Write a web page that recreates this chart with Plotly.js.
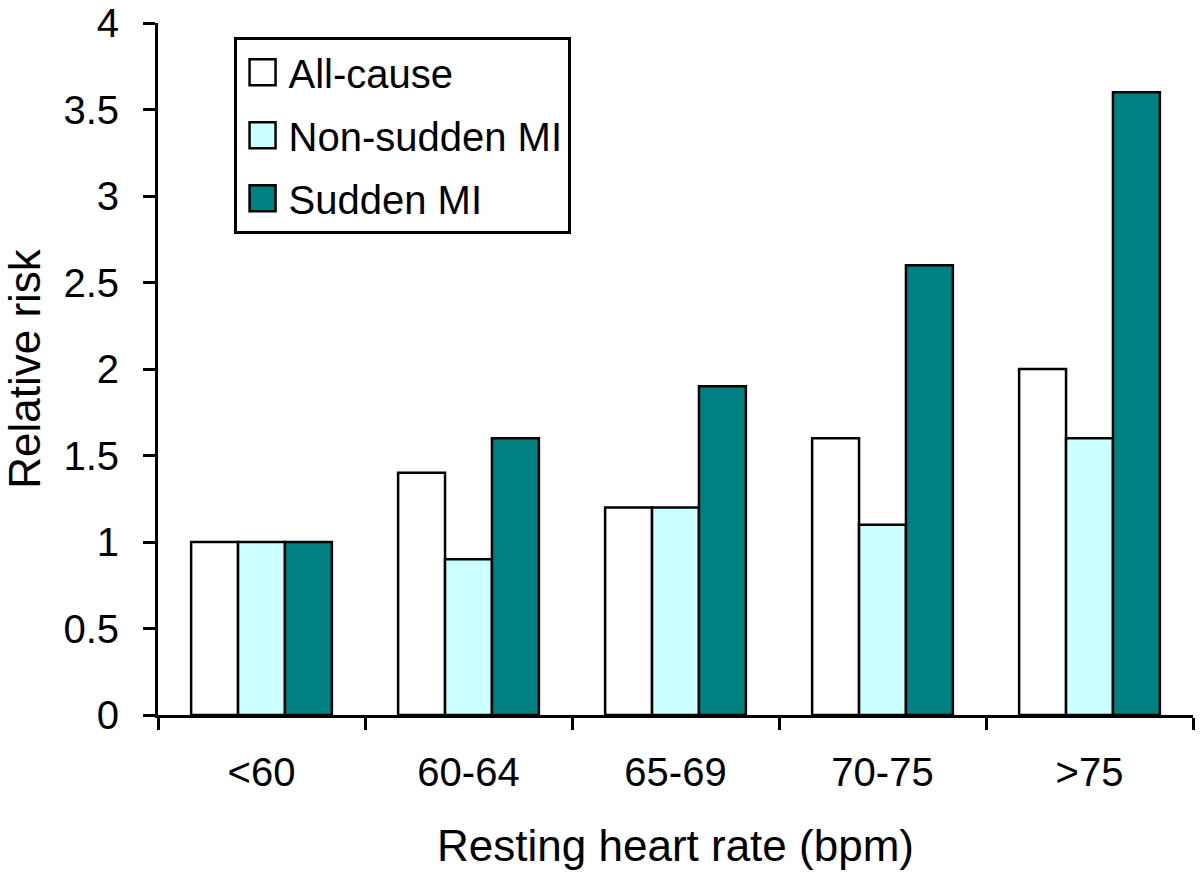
<!DOCTYPE html>
<html>
<head>
<meta charset="utf-8">
<script src="https://cdn.plot.ly/plotly-3.0.1.min.js"></script>
<style>html,body{margin:0;padding:0;background:#fff;}#chart{width:1200px;height:874px;}</style>
</head>
<body>
<div id="chart"></div>
<script>
const categories = ["<60", "60-64", "65-69", "70-75", ">75"];
const allCause = [1.0, 1.4, 1.2, 1.6, 2.0];
const nonSuddenMI = [1.0, 0.9, 1.2, 1.1, 1.6];
const suddenMI = [1.0, 1.6, 1.9, 2.6, 3.6];
const seriesNames = ["All-cause", "Non-sudden MI", "Sudden MI"];
const seriesColors = ["#FFFFFF", "#CCFFFF", "#008080"];
const seriesValues = [allCause, nonSuddenMI, suddenMI];

const font = "Liberation Sans, Arial, sans-serif";
const traces = seriesValues.map((vals, i) => ({
  type: "bar",
  name: seriesNames[i],
  x: categories,
  y: vals,
  legendgroup: "g" + i,
  marker: {color: seriesColors[i], line: {color: "#000", width: 2.5}},
  hoverinfo: "x+y+name"
}));

const layout = {
  width: 1200, height: 874,
  margin: {l: 158, r: 7, t: 23, b: 159},
  paper_bgcolor: "#fff", plot_bgcolor: "#fff",
  font: {family: font, size: 40, color: "#000"},
  barmode: "group",
  bargap: 0.32,
  bargroupgap: 0,
  showlegend: true,
  legend: {
    x: 0.073, y: 0.98, xanchor: "left", yanchor: "top",
    bordercolor: "#000", borderwidth: 3, bgcolor: "#fff",
    font: {family: font, size: 40, color: "#000"},
    tracegroupgap: 8, traceorder: "grouped",
    itemwidth: 42
  },
  xaxis: {
    type: "category",
    showline: true, linecolor: "#000", linewidth: 3,
    ticks: "outside", ticklen: 12, tickwidth: 3, tickcolor: "#000",
    tickson: "boundaries",
    ticklabelstandoff: 20,
    showgrid: false, zeroline: false,
    tickfont: {family: font, size: 40},
    title: {text: "Resting heart rate (bpm)", font: {family: font, size: 44}, standoff: 38}
  },
  yaxis: {
    range: [0, 4], dtick: 0.5, tick0: 0,
    showline: true, linecolor: "#000", linewidth: 3,
    ticks: "outside", ticklen: 12, tickwidth: 3, tickcolor: "#000",
    ticklabelstandoff: 16,
    showgrid: false, zeroline: false,
    tickfont: {family: font, size: 40},
    title: {text: "Relative risk", font: {family: font, size: 44}, standoff: 26}
  }
};

Plotly.newPlot("chart", traces, layout, {staticPlot: true, displayModeBar: false}).then(gd => {
  // enlarge the legend swatches to match the reference's square keys
  gd.querySelectorAll(".legend .legendpoints path").forEach(p => {
    p.setAttribute("d", "M13,13H-13V-13H13Z");
  });
});
</script>
</body>
</html>
